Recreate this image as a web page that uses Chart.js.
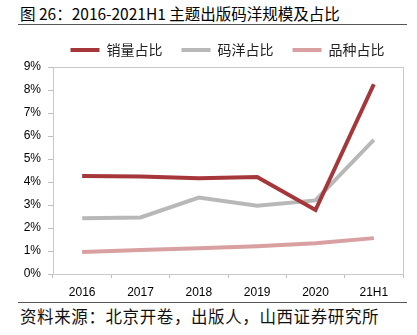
<!DOCTYPE html>
<html>
<head>
<meta charset="utf-8">
<script src="https://cdn.jsdelivr.net/npm/chart.js@4.4.0/dist/chart.umd.min.js"></script>
<style>
  body { margin: 0; background: #fff; width: 417px; height: 335px; position: relative; overflow: hidden; font-family: "Noto Sans CJK SC", sans-serif; }
  #title { position: absolute; left: 20px; top: 2px; font-size: 15.5px; color: #000; white-space: nowrap; }
  #topRule { position: absolute; left: 18px; top: 24px; width: 389px; height: 1px; background: #555; }
  #wrap { position: absolute; left: 0; top: 24px; width: 417px; height: 276px; }
  #bottomRule { position: absolute; left: 18px; top: 302px; width: 389px; height: 1px; background: #555; }
  #source { position: absolute; left: 20px; top: 304px; font-size: 16.5px; letter-spacing: 0.6px; color: #111; white-space: nowrap; }
</style>
</head>
<body>
<div id="title">图 26：2016-2021H1 主题出版码洋规模及占比</div>
<div id="topRule"></div>
<div id="wrap"><canvas id="shareChart"></canvas></div>
<div id="bottomRule"></div>
<div id="source">资料来源：北京开卷，出版人，山西证券研究所</div>
<script>
// categories and series (percent)
const years = ['2016', '2017', '2018', '2019', '2020', '21H1'];
const salesShare = [4.26, 4.24, 4.16, 4.22, 2.78, 8.25];
const valueShare = [2.42, 2.46, 3.32, 2.97, 3.2, 5.83];
const titleShare = [0.96, 1.04, 1.12, 1.21, 1.34, 1.56];
const yTicks = [0, 1, 2, 3, 4, 5, 6, 7, 8, 9];

// draw the light box around the plot area, nudge legend over the plot
const boxPlugin = {
    id: 'box',
    afterLayout(chart) {
        const lg = chart.legend;
        lg.left += 26;
        lg.right += 26;
    },
    afterDraw(chart) {
        const a = chart.chartArea;
        const ctx = chart.ctx;
        ctx.save();
        ctx.strokeStyle = '#c8c8c8';
        ctx.lineWidth = 1;
        ctx.strokeRect(a.left + 0.5, a.top + 0.5, a.right - a.left, a.bottom - a.top);
        ctx.restore();
    }
};

function makeSet(label, data, color) {
    return {
        label: label,
        data: data,
        borderColor: color,
        backgroundColor: color,
        borderWidth: 4,
        pointRadius: 0,
        tension: 0,
        fill: false
    };
}

const ctx = document.getElementById('shareChart').getContext('2d');
new Chart(ctx, {
    type: 'line',
    data: {
        labels: years,
        datasets: [
            makeSet('销量占比', salesShare, '#a5373a'),
            makeSet('码洋占比', valueShare, '#b8b8b8'),
            makeSet('品种占比', titleShare, '#d9a0a1')
        ]
    },
    plugins: [boxPlugin],
    options: {
        responsive: true,
        maintainAspectRatio: false,
        animation: false,
        layout: { padding: { left: 0, right: 14, top: 0, bottom: 0 } },
        plugins: {
            tooltip: { enabled: false },
            legend: {
                labels: {
                    boxWidth: 29,
                    boxHeight: 4,
                    padding: 19,
                    color: '#222',
                    font: { family: '"Noto Sans CJK SC"', size: 14 },
                    generateLabels(chart) {
                        return chart.data.datasets.map((ds, i) => ({
                            text: ds.label,
                            fillStyle: ds.borderColor,
                            strokeStyle: ds.borderColor,
                            lineWidth: 0,
                            fontColor: '#222',
                            datasetIndex: i
                        }));
                    }
                }
            }
        },
        scales: {
            x: {
                offset: true,
                grid: { offset: true, drawOnChartArea: false, tickLength: 4, color: '#bfbfbf' },
                border: { color: '#bfbfbf' },
                ticks: { color: '#000', padding: 7, font: { family: '"Liberation Sans"', size: 12 } },
                afterFit(scale) { scale.height = 26; }
            },
            y: {
                min: 0,
                max: 9,
                afterBuildTicks(scale) { scale.ticks = yTicks.map(v => ({ value: v })); },
                grid: { drawOnChartArea: false, tickLength: 5, color: '#bfbfbf' },
                border: { color: '#bfbfbf' },
                ticks: {
                    color: '#000',
                    padding: 7,
                    font: { family: '"Liberation Sans"', size: 12 },
                    callback: v => v + '%'
                },
                afterFit(scale) { scale.width = 53; }
            }
        }
    }
});
</script>
</body>
</html>
